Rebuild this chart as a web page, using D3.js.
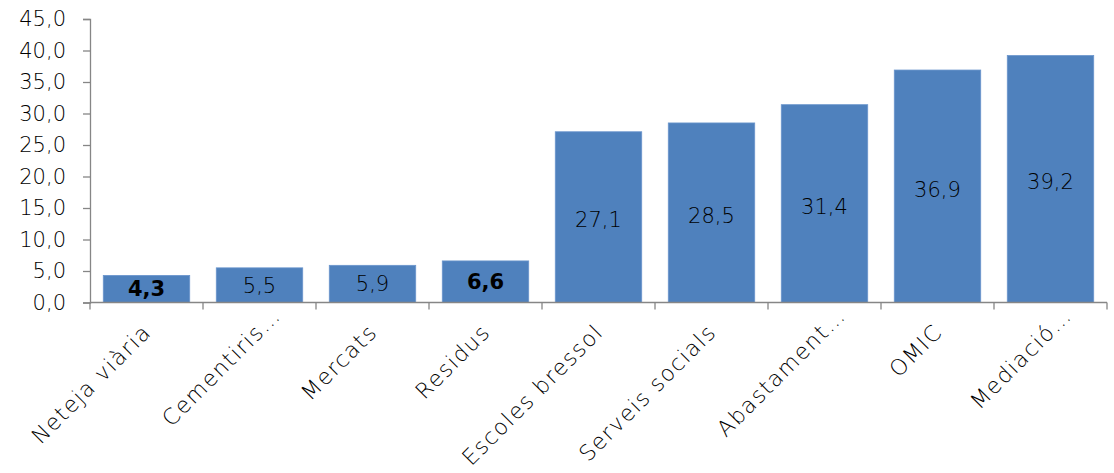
<!DOCTYPE html>
<html><head><meta charset="utf-8">
<script src="https://cdn.jsdelivr.net/npm/d3@7"></script>
<style>body{margin:0;background:#fff}svg{display:block}text{font-family:"DejaVu Sans",sans-serif;fill:#000}</style>
</head><body><svg id="c" width="1114" height="473"></svg>
<script>
const categories = ["Neteja viària","Cementiris…","Mercats","Residus","Escoles bressol","Serveis socials","Abastament…","OMIC","Mediació…"];
const values = [4.3,5.5,5.9,6.6,27.1,28.5,31.4,36.9,39.2];
const boldLabels = [true,false,false,true,false,false,false,false,false];
const yTicks = [0,5,10,15,20,25,30,35,40,45];

const svg = d3.select("#c");
const x0 = 90, x1 = 1107, yBottom = 302.5, yTop = 19;
const x = d3.scaleBand().domain(categories).range([x0, x1]).paddingInner(0.235).paddingOuter(0.1175);
const y = d3.scaleLinear().domain([0,45]).range([yBottom, yTop]);
const fmt = v => v.toFixed(1).replace(".", ",");

svg.selectAll("rect.bar").data(values).join("rect")
  .attr("class","bar")
  .attr("x",(d,i)=>x(categories[i]))
  .attr("y",d=>y(d))
  .attr("width",x.bandwidth())
  .attr("height",d=>y(0)-y(d))
  .attr("fill","#4F81BD")
  .attr("stroke","#6a95cc").attr("stroke-width",0.8);

// y axis
const yAxis = d3.axisLeft(y).tickValues(yTicks).tickFormat(fmt).tickSize(7).tickPadding(17);
const gy = svg.append("g").attr("transform",`translate(${x0},0)`).call(yAxis);
gy.select(".domain").attr("stroke","#868686").attr("stroke-width",1.3);
gy.selectAll(".tick line").attr("stroke","#868686").attr("stroke-width",1.3);
gy.selectAll(".tick text").style("font-size","21px").style("font-weight","300").attr("fill","#000").attr("font-family","DejaVu Sans");

// x axis line
svg.append("line").attr("x1",x0).attr("x2",x1).attr("y1",y(0)).attr("y2",y(0))
  .attr("stroke","#868686").attr("stroke-width",1.3);
// x ticks at band boundaries
const bounds = categories.map(c=>x(c)-x.step()*x.paddingInner()/2).concat([x1]);
svg.selectAll("line.xt").data(bounds).join("line").attr("class","xt")
  .attr("x1",d=>d).attr("x2",d=>d).attr("y1",y(0)).attr("y2",y(0)+7)
  .attr("stroke","#868686").attr("stroke-width",1.3);

// x labels (ellipsis hangs past the anchor, as in the reference)
const lg = svg.selectAll("g.xl").data(categories).join("g").attr("class","xl")
  .attr("transform",d=>`translate(${x(d)+x.bandwidth()/2+6},${y(0)+31}) rotate(-45)`);
lg.append("text").attr("text-anchor","end")
  .style("font-size","22px").style("letter-spacing","1.4px").style("font-weight","300")
  .text(d=>d.replace(/…$/,""));
lg.filter(d=>/…$/.test(d)).append("text").attr("text-anchor","start").attr("x",0)
  .style("font-size","22px").style("font-weight","300").text("…");

// data labels
svg.selectAll("text.dl").data(values).join("text").attr("class","dl")
  .attr("x",(d,i)=>x(categories[i])+x.bandwidth()/2)
  .attr("y",d=>(y(d)+y(0))/2 + (d>10?3:0))
  .attr("text-anchor","middle").attr("dy","0.35em")
  .style("font-size","21px")
  .style("font-weight",(d,i)=>boldLabels[i]?"bold":"300")
  .text(fmt);
</script></body></html>
